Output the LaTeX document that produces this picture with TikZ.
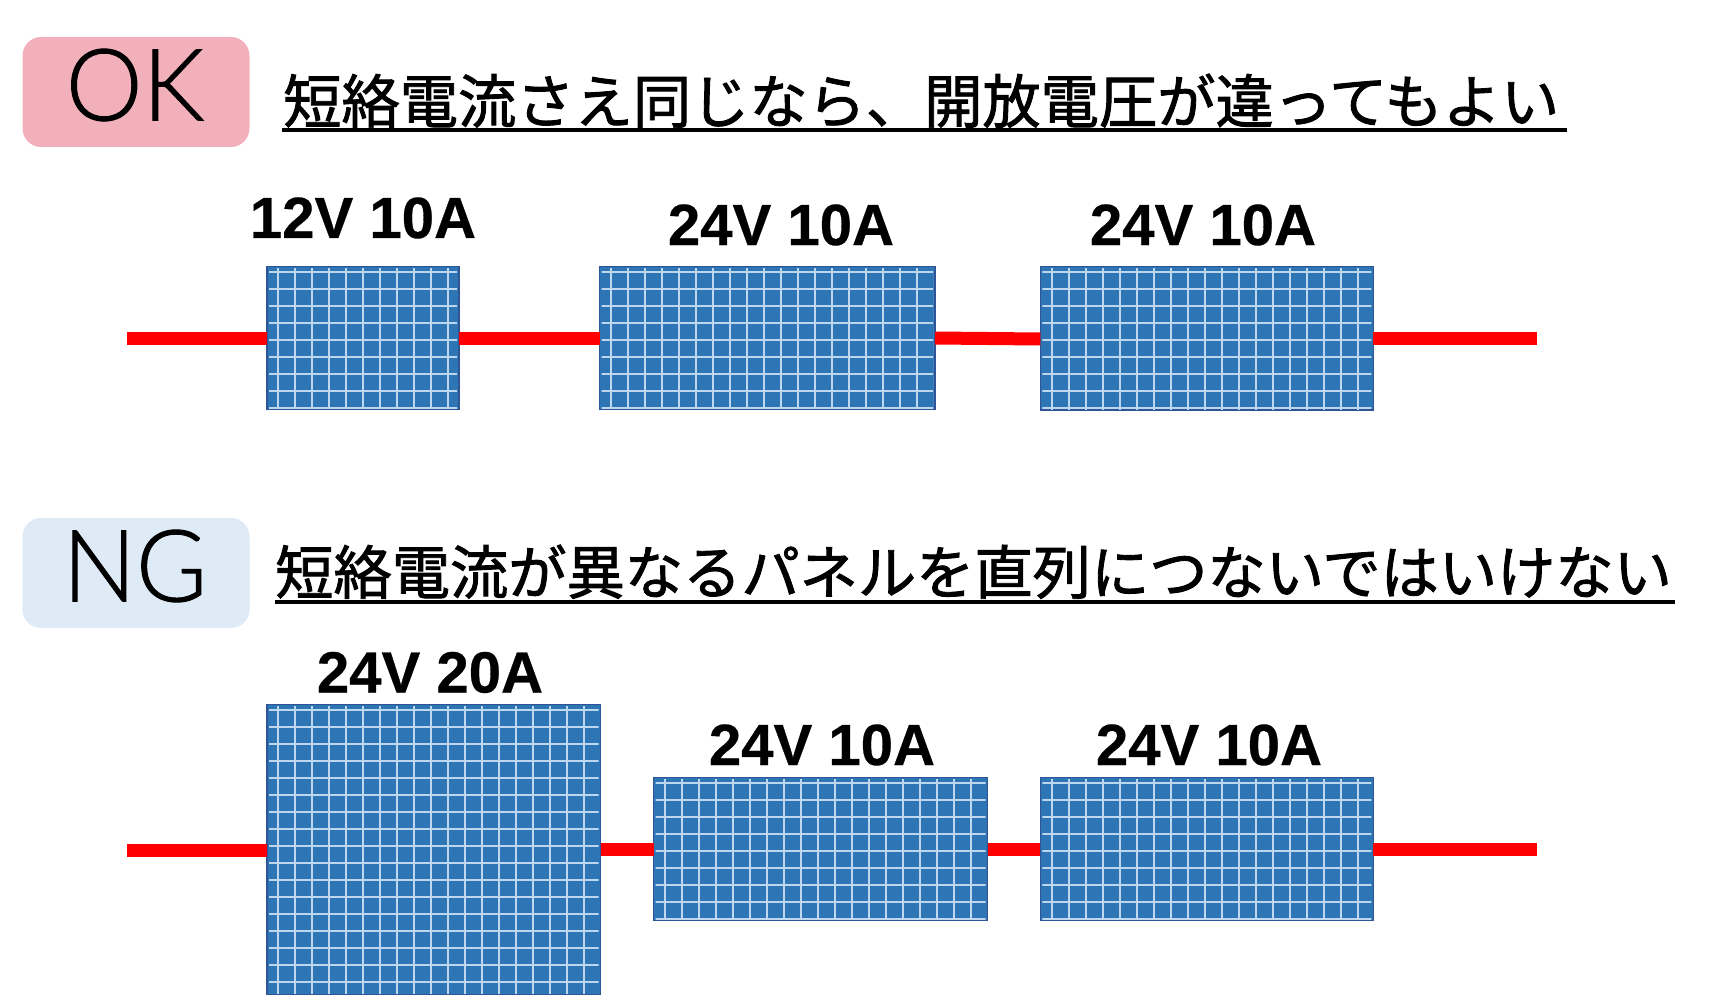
\documentclass[tikz,border=0pt]{standalone}
\usepackage{fontspec}
\setmainfont{Liberation Sans}
\newfontfamily\jp[FakeBold=1.5]{Noto Sans CJK JP}
\newfontfamily\thinlatin[FakeBold=1]{Lato Light}
\newfontfamily\labelfont[FakeBold=0.5]{Liberation Sans Bold}
\tikzset{x=0.75pt,y=-0.75pt,
 wire/.style={draw=red,line width=9.75pt},
 panelbox/.style={draw=panelEdge,line width=1.1pt,fill=panelBlue,inner sep=0pt,outer sep=0pt},
 gridline/.style={draw=gridBlue,line width=1.6pt},
 badge/.style={rounded corners=14pt,inner sep=0pt,outer sep=0pt},
 badgetext/.style={font=\thinlatin\fontsize{75pt}{75pt}\selectfont,inner sep=0pt,anchor=center,xscale=0.97},
 paneltext/.style={font=\labelfont\fontsize{43.6pt}{43.6pt}\selectfont,inner sep=0pt,anchor=base},
 titletext/.style={font=\jp\fontsize{43.7pt}{43.7pt}\selectfont,inner sep=0pt,anchor=base west},
 rulerline/.style={draw=black,line width=3pt}}
\definecolor{panelBlue}{HTML}{2E75B6}
\definecolor{panelEdge}{HTML}{2F5597}
\definecolor{gridBlue}{HTML}{BDD7EE}
\definecolor{okpink}{HTML}{F2B0BA}
\definecolor{ngblue}{HTML}{DEEAF6}
% name, x0,y0,x1,y1, wire y left, wire y right
\newcommand{\solarpanel}[7]{%
 \path[panelbox] (#2,#3) rectangle (#4,#5);
 \coordinate (#1w) at (#2,#6);
 \coordinate (#1e) at (#4,#7);
 \begin{scope}
 \clip (#2+2,#3+2) rectangle (#4-2,#5-1);
 \foreach \gx in {0,...,40}{\draw[gridline] ({#2+11.3+17*\gx},#3) -- ({#2+11.3+17*\gx},#5);}
 \foreach \gy in {0,...,40}{\draw[gridline] (#2,{#3+5.7+17*\gy}) -- (#4,{#3+5.7+17*\gy});}
 \end{scope}
}
\begin{document}
\begin{tikzpicture}
\useasboundingbox (0,0) rectangle (1710,995);
\fill[white] (0,0) rectangle (1710,995);
% panels
\solarpanel{p1}{267}{266.7}{459}{409.3}{338}{338}
\solarpanel{p2}{599.7}{266.7}{935}{409.3}{338}{338}
\solarpanel{p3}{1040.3}{266.7}{1373.3}{410}{339}{338}
\solarpanel{p4}{267}{704.3}{600.7}{994.5}{850}{849}
\solarpanel{p5}{653.5}{777.5}{987.5}{920.5}{849}{849}
\solarpanel{p6}{1040.3}{777.5}{1373.3}{920.5}{849}{849}
% wires
\coordinate (a0) at (126.5,338); \coordinate (a1) at (1537,338);
\coordinate (b0) at (126.5,850); \coordinate (b1) at (1537,849);
\draw[wire] (a0) -- (p1w);
\draw[wire] (p1e) -- (p2w);
\draw[wire] (p2e) -- (p3w);
\draw[wire] (p3e) -- (a1);
\draw[wire] (b0) -- (p4w);
\draw[wire] (p4e) -- (p5w);
\draw[wire] (p5e) -- (p6w);
\draw[wire] (p6e) -- (b1);
% panel labels
\node[paneltext] (l1) at (363,238) {12V 10A};
\node[paneltext] (l2) at (781,245) {24V 10A};
\node[paneltext] (l3) at (1203,245) {24V 10A};
\node[paneltext] (l4) at (430,692.5) {24V 20A};
\node[paneltext] (l5) at (822,765) {24V 10A};
\node[paneltext] (l6) at (1209,765) {24V 10A};
% badges
\fill[okpink,badge] (22.5,37) rectangle (249.5,147);
\fill[ngblue,badge] (22.5,518) rectangle (249.5,628);
\node[badgetext] (ok) at (135,85) {OK};
\node[badgetext] (ng) at (135,566) {NG};
% titles
\node[titletext] (t1) at (283,123) {短絡電流さえ同じなら、開放電圧が違ってもよい};
\node[titletext] (t2) at (275,594) {短絡電流が異なるパネルを直列につないではいけない};
\coordinate (u1a) at (282,130); \coordinate (u1b) at (1567,130);
\coordinate (u2a) at (275,602); \coordinate (u2b) at (1675,602);
\draw[rulerline] (u1a) -- (u1b);
\draw[rulerline] (u2a) -- (u2b);
\end{tikzpicture}
\end{document}
